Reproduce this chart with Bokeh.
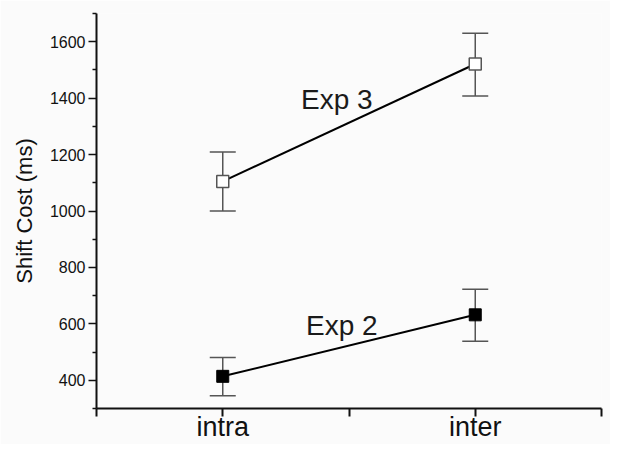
from bokeh.plotting import figure
from bokeh.models import ColumnDataSource, Whisker, TeeHead, FixedTicker, Label
from bokeh.embed import file_html
from bokeh.resources import INLINE

categories = ["intra", "inter"]
cat_pos = [1, 2]
exp3_mean = [1105, 1521]
exp3_upper = [1209, 1630]
exp3_lower = [1000, 1408]
exp2_mean = [414, 632]
exp2_upper = [481, 723]
exp2_lower = [345, 538]
y_ticks = [400, 600, 800, 1000, 1200, 1400, 1600]
y_minor = [300, 500, 700, 900, 1100, 1300, 1500, 1700]
x_ticks = [0.5, 1, 1.5, 2, 2.5]

FONT = "Liberation Sans"
BG = "#fbfbfb"
GREY = "#555555"

p = figure(width=610, height=444, output_backend="svg", toolbar_location=None,
           x_range=(0.5, 2.5), y_range=(300, 1700),
           min_border_left=96, min_border_right=9, min_border_top=13, min_border_bottom=20)
p.background_fill_color = BG
p.border_fill_color = BG
p.outline_line_color = None
p.grid.visible = False

src3 = ColumnDataSource(dict(x=cat_pos, y=exp3_mean, upper=exp3_upper, lower=exp3_lower))
src2 = ColumnDataSource(dict(x=cat_pos, y=exp2_mean, upper=exp2_upper, lower=exp2_lower))

for src in (src3, src2):
    w = Whisker(base="x", upper="upper", lower="lower", source=src,
                line_color=GREY, line_width=1.5,
                upper_head=TeeHead(size=26, line_color=GREY, line_width=1.5),
                lower_head=TeeHead(size=26, line_color=GREY, line_width=1.5))
    p.add_layout(w)

p.line("x", "y", source=src3, line_color="black", line_width=2)
p.line("x", "y", source=src2, line_color="black", line_width=2)
p.scatter("x", "y", source=src3, marker="square", size=12,
          fill_color="white", line_color=GREY, line_width=1.5)
p.scatter("x", "y", source=src2, marker="square", size=12,
          fill_color="black", line_color="black")

p.add_layout(Label(x=1.31, y=1395, text="Exp 3", text_font=FONT, text_font_size="28px",
                   text_color="#1a1a1a", text_baseline="alphabetic"))
p.add_layout(Label(x=1.33, y=594, text="Exp 2", text_font=FONT, text_font_size="28px",
                   text_color="#1a1a1a", text_baseline="alphabetic"))

xa = p.xaxis[0]
xa.ticker = FixedTicker(ticks=x_ticks)
xa.major_label_overrides = {0.5: "", 1: categories[0], 1.5: "", 2: categories[1], 2.5: ""}
xa.major_label_text_font = FONT
xa.major_label_text_font_size = "27px"
xa.major_label_text_color = "#111111"
xa.major_label_standoff = -5
xa.major_tick_out = 8
xa.major_tick_in = 0
xa.minor_tick_out = 0
xa.axis_line_width = 2
xa.major_tick_line_width = 2
xa.axis_line_color = "#111111"
xa.major_tick_line_color = "#111111"

ya = p.yaxis[0]
ya.ticker = FixedTicker(ticks=y_ticks, minor_ticks=y_minor)
ya.axis_label = "Shift Cost (ms)"
ya.axis_label_text_font = FONT
ya.axis_label_text_font_size = "22px"
ya.axis_label_text_font_style = "normal"
ya.axis_label_text_color = "#111111"
ya.axis_label_standoff = 10
ya.major_label_text_font = FONT
ya.major_label_text_font_size = "16px"
ya.major_label_text_color = "#111111"
ya.major_label_standoff = 3
ya.major_tick_out = 8
ya.major_tick_in = 0
ya.minor_tick_out = 4
ya.minor_tick_in = 0
ya.axis_line_width = 2
ya.major_tick_line_width = 1.5
ya.minor_tick_line_width = 1.5
ya.axis_line_color = "#111111"
ya.major_tick_line_color = "#111111"
ya.minor_tick_line_color = "#111111"

open("out.html", "w").write(file_html(p, INLINE))
